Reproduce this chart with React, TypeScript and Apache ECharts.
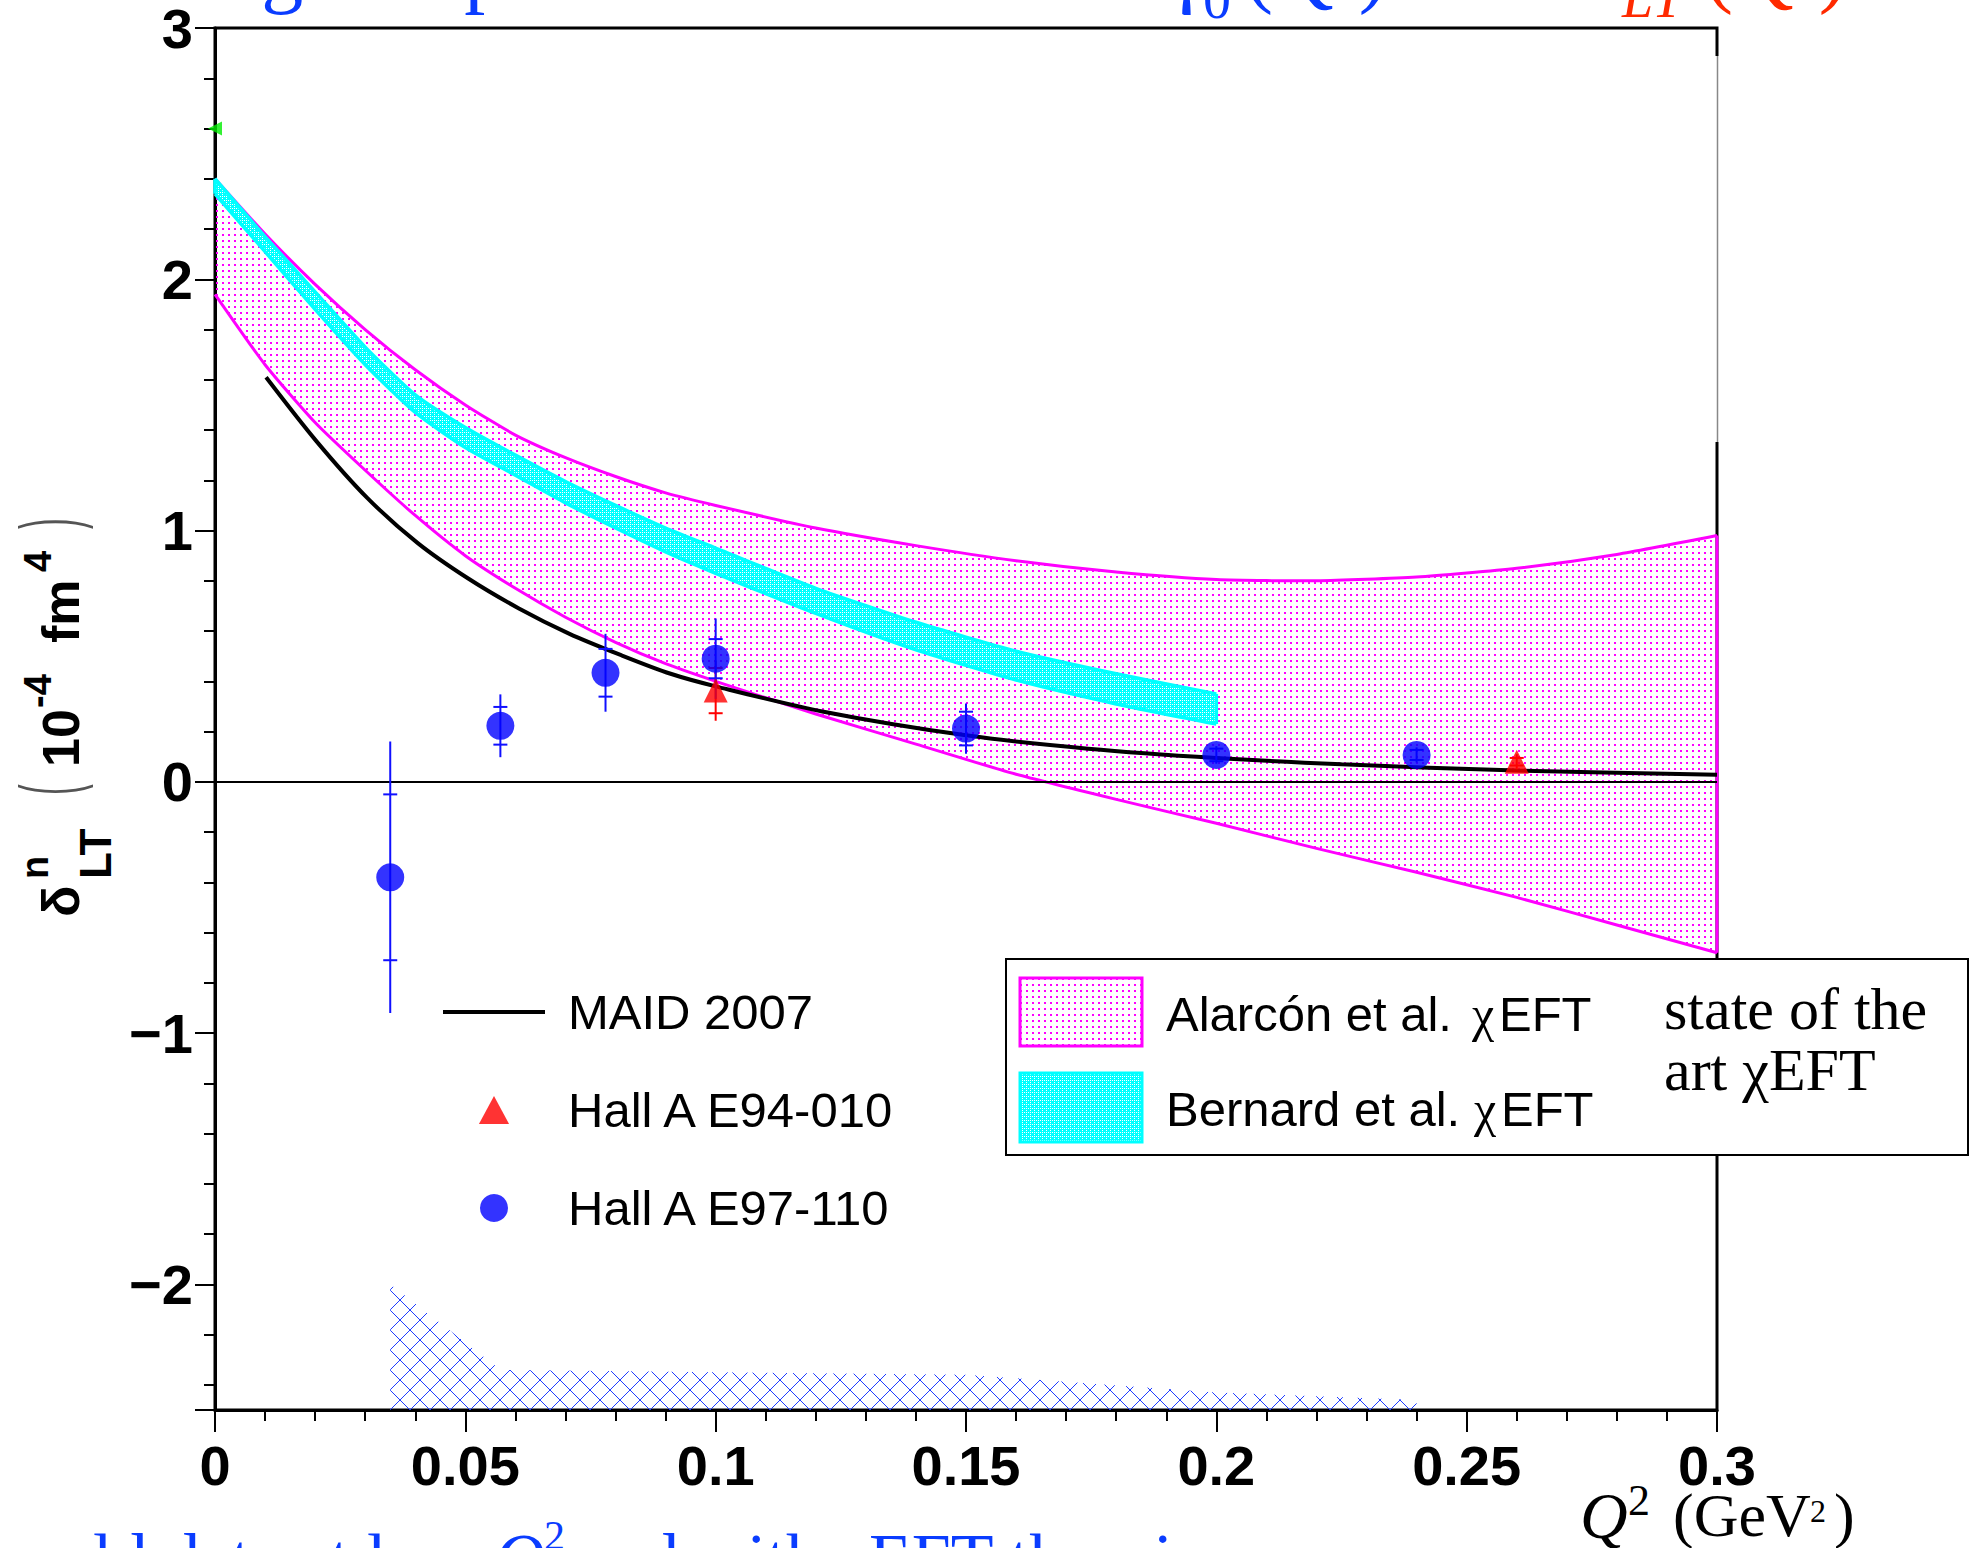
import React, { useEffect, useRef } from 'react';
import * as echarts from 'echarts';

const SANS = '"Liberation Sans", Arial, Helvetica, sans-serif';
const SERIF = '"Liberation Serif", "Times New Roman", Times, serif';

// ---- data ----
const xTickValues = [0, 0.05, 0.1, 0.15, 0.2, 0.25, 0.3];

const maidQ = [0.0102, 0.0202, 0.0304, 0.0405, 0.0505, 0.0607, 0.0707, 0.081, 0.091, 0.1, 0.1213, 0.15, 0.1744, 0.2, 0.225, 0.26, 0.3];
const maidV = [1.61, 1.357, 1.13, 0.95, 0.81, 0.69, 0.59, 0.505, 0.43, 0.38, 0.28, 0.185, 0.132, 0.095, 0.07, 0.045, 0.028];

const alarconQ = [0, 0.01, 0.02, 0.03, 0.04, 0.05, 0.06, 0.07, 0.08, 0.09, 0.1, 0.12, 0.14, 0.16, 0.18, 0.2, 0.22, 0.24, 0.26, 0.28, 0.3];
const alarconHigh = [2.4, 2.18, 1.98, 1.8, 1.64, 1.5, 1.38, 1.29, 1.215, 1.15, 1.1, 1.01, 0.94, 0.88, 0.835, 0.805, 0.8, 0.815, 0.85, 0.905, 0.98];
const alarconLow = [1.94, 1.66, 1.43, 1.24, 1.06, 0.9, 0.77, 0.655, 0.555, 0.47, 0.4, 0.27, 0.15, 0.03, -0.07, -0.165, -0.265, -0.36, -0.46, -0.57, -0.68];

const bernardQ = [0, 0.01, 0.02, 0.03, 0.04, 0.05, 0.06, 0.07, 0.08, 0.09, 0.1, 0.12, 0.14, 0.16, 0.18, 0.2];
const bernardHigh = [2.4, 2.17, 1.95, 1.73, 1.54, 1.41, 1.3, 1.195, 1.1, 1.01, 0.93, 0.77, 0.635, 0.52, 0.43, 0.35];
const bernardLow = [2.34, 2.11, 1.88, 1.66, 1.47, 1.33, 1.22, 1.11, 1.01, 0.915, 0.83, 0.67, 0.525, 0.405, 0.31, 0.23];

const sysQ = [0.035, 0.057, 0.078, 0.1, 0.15, 0.2, 0.24];
const sysTop = [-2.0, -2.34, -2.345, -2.35, -2.36, -2.43, -2.46];
const sysBase = -2.5;

const e97Q = [0.035, 0.057, 0.078, 0.1, 0.15, 0.2, 0.24];
const e97V = [-0.38, 0.223, 0.434, 0.49, 0.212, 0.107, 0.107];
const e97Stat = [0.33, 0.075, 0.095, 0.078, 0.067, 0.025, 0.02];
const e97Tot = [0.54, 0.125, 0.155, 0.16, 0.1, 0.035, 0.03];

const e94Q = [0.1, 0.26];
const e94V = [0.363, 0.08];
const e94Stat = [0.09, 0.015];
const e94Tot = [0.12, 0.03];

const photonQ = [0];
const photonV = [2.6];

const seriesNames = ['MAID 2007', 'Hall A E94-010', 'Hall A E97-110'];

function canvasPattern(w: number, h: number, paint: (ctx: CanvasRenderingContext2D) => void): any {
  const c = document.createElement('canvas');
  c.width = w;
  c.height = h;
  const ctx = c.getContext('2d');
  if (ctx) paint(ctx);
  return { image: c.toDataURL('image/png'), repeat: 'repeat', imageWidth: w, imageHeight: h };
}

function txt(text: string, x: number, y: number, size: number, o: any = {}): any {
  const el: any = {
    type: 'text',
    x,
    y,
    z: 30,
    silent: true,
    style: {
      text,
      fontSize: size,
      fontFamily: o.family || SANS,
      fontWeight: o.weight || 'normal',
      fontStyle: o.italic ? 'italic' : 'normal',
      fill: o.color || '#000',
      align: o.align || 'left',
      verticalAlign: 'middle',
    },
  };
  if (o.scaleX) el.scaleX = o.scaleX;
  return el;
}

function bandSeries(name: string, q: number[], low: number[], high: number[], fill: any, stroke: string, lw: number, z: number, closeLeft: boolean): any {
  return {
    type: 'custom',
    name,
    z,
    silent: true,
    clip: false,
    data: q.map((x, i) => [x, low[i], high[i]]),
    encode: { x: 0, y: [1, 2] },
    renderItem: (params: any, api: any) => {
      if (params.dataIndex !== 0) return null;
      const up = q.map((x, i) => api.coord([x, high[i]]));
      const lo = q.map((x, i) => api.coord([x, low[i]]));
      const poly = up.concat(lo.slice().reverse());
      const last = q.length - 1;
      const children: any[] = [
        { type: 'polygon', shape: { points: poly }, style: { fill, stroke: 'none' } },
        { type: 'polyline', shape: { points: up, smooth: 0.2 }, style: { stroke, lineWidth: lw, fill: 'none' } },
        { type: 'polyline', shape: { points: lo, smooth: 0.2 }, style: { stroke, lineWidth: lw, fill: 'none' } },
        { type: 'line', shape: { x1: up[last][0], y1: up[last][1], x2: lo[last][0], y2: lo[last][1] }, style: { stroke, lineWidth: lw } },
      ];
      if (closeLeft) {
        children.push({ type: 'line', shape: { x1: up[0][0], y1: up[0][1], x2: lo[0][0], y2: lo[0][1] }, style: { stroke, lineWidth: lw } });
      }
      return { type: 'group', children };
    },
  };
}

function errorBarSeries(name: string, q: number[], v: number[], stat: number[], tot: number[], color: string): any {
  return {
    type: 'custom',
    name,
    z: 5,
    silent: true,
    data: q.map((x, i) => [x, v[i], stat[i], tot[i]]),
    encode: { x: 0, y: 1 },
    renderItem: (params: any, api: any) => {
      const x = api.value(0);
      const c = api.value(1);
      const s = api.value(2);
      const t = api.value(3);
      const top = api.coord([x, c + t]);
      const bot = api.coord([x, c - t]);
      const s1 = api.coord([x, c + s]);
      const s2 = api.coord([x, c - s]);
      const hw = 7;
      const st = { stroke: color, lineWidth: 2 };
      return {
        type: 'group',
        children: [
          { type: 'line', shape: { x1: top[0], y1: top[1], x2: bot[0], y2: bot[1] }, style: st },
          { type: 'line', shape: { x1: s1[0] - hw, y1: s1[1], x2: s1[0] + hw, y2: s1[1] }, style: st },
          { type: 'line', shape: { x1: s2[0] - hw, y1: s2[1], x2: s2[0] + hw, y2: s2[1] }, style: st },
        ],
      };
    },
  };
}

export default function App() {
  const ref = useRef<HTMLDivElement>(null);

  useEffect(() => {
    if (!ref.current) return;
    const chart = echarts.init(ref.current, null, { renderer: 'svg' });

    const dots = canvasPattern(6, 6, (ctx) => {
      ctx.fillStyle = '#ff00ff';
      ctx.fillRect(0, 0, 2, 2);
    });
    const cyanDots = canvasPattern(4, 4, (ctx) => {
      ctx.fillStyle = '#00ffff';
      ctx.fillRect(0, 0, 4, 4);
      ctx.fillStyle = '#ffffff';
      ctx.fillRect(0, 0, 1, 1);
      ctx.fillRect(2, 2, 1, 1);
      ctx.fillRect(2, 0, 1, 1);
    });
    const hatch = canvasPattern(20, 20, (ctx) => {
      ctx.strokeStyle = '#1e3cff';
      ctx.lineWidth = 1;
      ctx.beginPath();
      ctx.moveTo(-2, -2);
      ctx.lineTo(22, 22);
      ctx.moveTo(22, -2);
      ctx.lineTo(-2, 22);
      ctx.stroke();
    });

    const labelStyle = { fontFamily: SANS, fontWeight: 'bold', fontSize: 56, color: '#000' };

    const blue = '#0a3cff';
    const red = '#ff2a00';

    const graphic: any[] = [
      // right border artifact (thin segment)
      { type: 'rect', z: 40, silent: true, shape: { x: 1714, y: 56, width: 7, height: 386 }, style: { fill: '#fff' } },
      { type: 'line', z: 41, silent: true, shape: { x1: 1717.5, y1: 56, x2: 1717.5, y2: 442 }, style: { stroke: '#888', lineWidth: 1.5 } },

      // y axis title (rotated)
      {
        type: 'group',
        x: 79,
        y: 917,
        rotation: Math.PI / 2,
        children: [
          txt('δ', 0, -18, 52, { weight: 'bold' }),
          txt('n', 38, -44, 38, { weight: 'bold' }),
          txt('LT', 38, 16, 44, { weight: 'bold' }),
          txt('(', 122, -31, 80, { color: '#555', scaleX: 0.4 }),
          txt('10', 150, -18, 52, { weight: 'bold' }),
          txt('-4', 209, -41, 38, { weight: 'bold' }),
          txt('fm', 274, -18, 52, { weight: 'bold' }),
          txt('4', 345, -41, 38, { weight: 'bold' }),
          txt(')', 388, -31, 80, { color: '#555', scaleX: 0.4 }),
        ],
      },

      // x axis title
      txt('Q', 1580, 1515, 66, { family: SERIF, italic: true }),
      txt('2', 1628, 1500, 44, { family: SERIF }),
      txt('(GeV', 1673, 1515, 62, { family: SERIF }),
      txt('2', 1810, 1511, 32, { family: SERIF }),
      txt(')', 1834, 1515, 62, { family: SERIF }),

      // right legend box
      { type: 'rect', z: 25, silent: true, shape: { x: 1006, y: 959, width: 962, height: 196 }, style: { fill: '#fff', stroke: '#000', lineWidth: 2 } },
      { type: 'rect', z: 26, silent: true, shape: { x: 1020, y: 978, width: 122, height: 68 }, style: { fill: dots, stroke: '#ff00ff', lineWidth: 3 } },
      { type: 'rect', z: 26, silent: true, shape: { x: 1020, y: 1073, width: 122, height: 69 }, style: { fill: cyanDots, stroke: '#00ffff', lineWidth: 3 } },
      txt('Alarcón et al.', 1166, 1014, 49),
      txt('χ', 1472, 1014, 50, { family: SERIF }),
      txt('EFT', 1499, 1014, 49),
      txt('Bernard et al.', 1166, 1109, 49),
      txt('χ', 1474, 1109, 50, { family: SERIF }),
      txt('EFT', 1501, 1109, 49),
      txt('state of the', 1664, 1009, 60, { family: SERIF }),
      txt('art χEFT', 1664, 1070, 60, { family: SERIF }),

      // clipped slide title (top)
      txt('higher spin moments', 196, -32, 84, { family: SERIF, color: blue }),
      txt('γ', 1168, -32, 84, { family: SERIF, color: blue }),
      txt('0', 1203, -1, 56, { family: SERIF, color: blue }),
      txt('(Q²)', 1245, -32, 84, { family: SERIF, color: blue }),
      txt('and', 1420, -32, 84, { family: SERIF, color: blue }),
      txt('δ', 1578, -32, 84, { family: SERIF, color: red }),
      txt('LT', 1622, -2, 56, { family: SERIF, color: red, italic: true }),
      txt('(Q²)', 1705, -32, 84, { family: SERIF, color: red }),

      // clipped slide text (bottom)
      txt('world data at low', 472, 1558, 70, { family: SERIF, color: blue, align: 'right' }),
      txt('Q', 494, 1558, 70, { family: SERIF, color: blue, italic: true }),
      txt('2', 544, 1536, 42, { family: SERIF, color: blue }),
      txt('and with', 578, 1558, 70, { family: SERIF, color: blue }),
      txt('χEFT theories', 838, 1558, 70, { family: SERIF, color: blue }),
    ];

    const option: any = {
      animation: false,
      backgroundColor: '#fff',
      grid: { left: 215, right: 267, top: 28, bottom: 138, show: true, borderColor: '#000', borderWidth: 3, backgroundColor: 'transparent' },
      xAxis: {
        type: 'value',
        min: xTickValues[0],
        max: xTickValues[xTickValues.length - 1],
        interval: 0.05,
        axisLine: { show: true, onZero: false, lineStyle: { color: '#000', width: 3 } },
        axisTick: { show: true, inside: false, length: 22, lineStyle: { color: '#000', width: 2 } },
        minorTick: { show: true, splitNumber: 5, length: 11, lineStyle: { color: '#000', width: 2 } },
        splitLine: { show: false },
        axisLabel: { ...labelStyle, margin: 27, formatter: (v: number) => String(+v.toFixed(2)) },
      },
      yAxis: {
        type: 'value',
        min: -2.5,
        max: 3,
        splitNumber: 5,
        axisLine: { show: true, onZero: false, lineStyle: { color: '#000', width: 3 } },
        axisTick: { show: true, inside: false, length: 20, lineStyle: { color: '#000', width: 2 } },
        minorTick: { show: true, splitNumber: 5, length: 11, lineStyle: { color: '#000', width: 2 } },
        splitLine: { show: false },
        axisLabel: {
          ...labelStyle,
          margin: 22,
          formatter: (v: number) => {
            if (Math.abs(v - Math.round(v)) > 1e-6) return '';
            const r = Math.round(v);
            return r < 0 ? '\u2212' + String(-r) : String(r);
          },
        },
      },
      legend: {
        data: [
          { name: seriesNames[0], icon: 'path://M0,0H102V4H0Z' },
          { name: seriesNames[1], icon: 'path://M14,0L28,26H0Z' },
          { name: seriesNames[2], icon: 'circle' },
        ],
        orient: 'vertical',
        left: 443,
        top: 984,
        padding: 0,
        itemWidth: 102,
        itemHeight: 28,
        itemGap: 42,
        symbolKeepAspect: true,
        selectedMode: false,
        textStyle: { fontSize: 49, fontFamily: SANS, color: '#000', lineHeight: 56, padding: [0, 0, 0, 18] },
      },
      graphic,
      series: [
        bandSeries('Alarcón et al. χEFT', alarconQ, alarconLow, alarconHigh, dots, '#ff00ff', 3, 2, false),
        bandSeries('Bernard et al. χEFT', bernardQ, bernardLow, bernardHigh, cyanDots, '#00ffff', 3.5, 3, true),
        {
          type: 'custom',
          name: 'systematic',
          z: 2,
          silent: true,
          data: sysQ.map((x, i) => [x, sysTop[i]]),
          encode: { x: 0, y: 1 },
          renderItem: (params: any, api: any) => {
            if (params.dataIndex !== 0) return null;
            const top = sysQ.map((x, i) => api.coord([x, sysTop[i]]));
            const base = [api.coord([sysQ[sysQ.length - 1], sysBase]), api.coord([sysQ[0], sysBase])];
            return { type: 'polygon', shape: { points: top.concat(base) }, style: { fill: hatch, stroke: 'none' } };
          },
        },
        {
          type: 'line',
          name: seriesNames[0],
          z: 4,
          data: maidQ.map((q, i) => [q, maidV[i]]),
          smooth: 0.3,
          symbol: 'none',
          showSymbol: false,
          color: '#000',
          itemStyle: { color: '#000' },
          lineStyle: { color: '#000', width: 4 },
          markLine: {
            silent: true,
            symbol: 'none',
            label: { show: false },
            lineStyle: { color: '#000', width: 2, type: 'solid' },
            data: [{ yAxis: 0 }],
          },
        },
        errorBarSeries('E94 errors', e94Q, e94V, e94Stat, e94Tot, '#ff0000'),
        errorBarSeries('E97 errors', e97Q, e97V, e97Stat, e97Tot, '#1010ff'),
        {
          type: 'scatter',
          name: seriesNames[2],
          z: 6,
          symbol: 'circle',
          symbolSize: 28,
          itemStyle: { color: '#0000ff' },
          data: e97Q.map((q, i) => [q, e97V[i]]),
        },
        {
          type: 'scatter',
          name: seriesNames[1],
          z: 7,
          symbol: 'triangle',
          symbolSize: 24,
          itemStyle: { color: '#ff0000' },
          data: e94Q.map((q, i) => [q, e94V[i]]),
        },
        {
          type: 'scatter',
          name: 'photon point',
          z: 7,
          symbol: 'triangle',
          symbolRotate: 90,
          symbolSize: 14,
          itemStyle: { color: '#00ee00' },
          data: photonQ.map((q, i) => [q, photonV[i]]),
        },
      ],
    };

    chart.setOption(option);
    return () => chart.dispose();
  }, []);

  return (
    <div
      ref={ref}
      style={{ position: 'absolute', left: 0, top: 0, width: 1984, height: 1548, background: '#fff' }}
    />
  );
}
